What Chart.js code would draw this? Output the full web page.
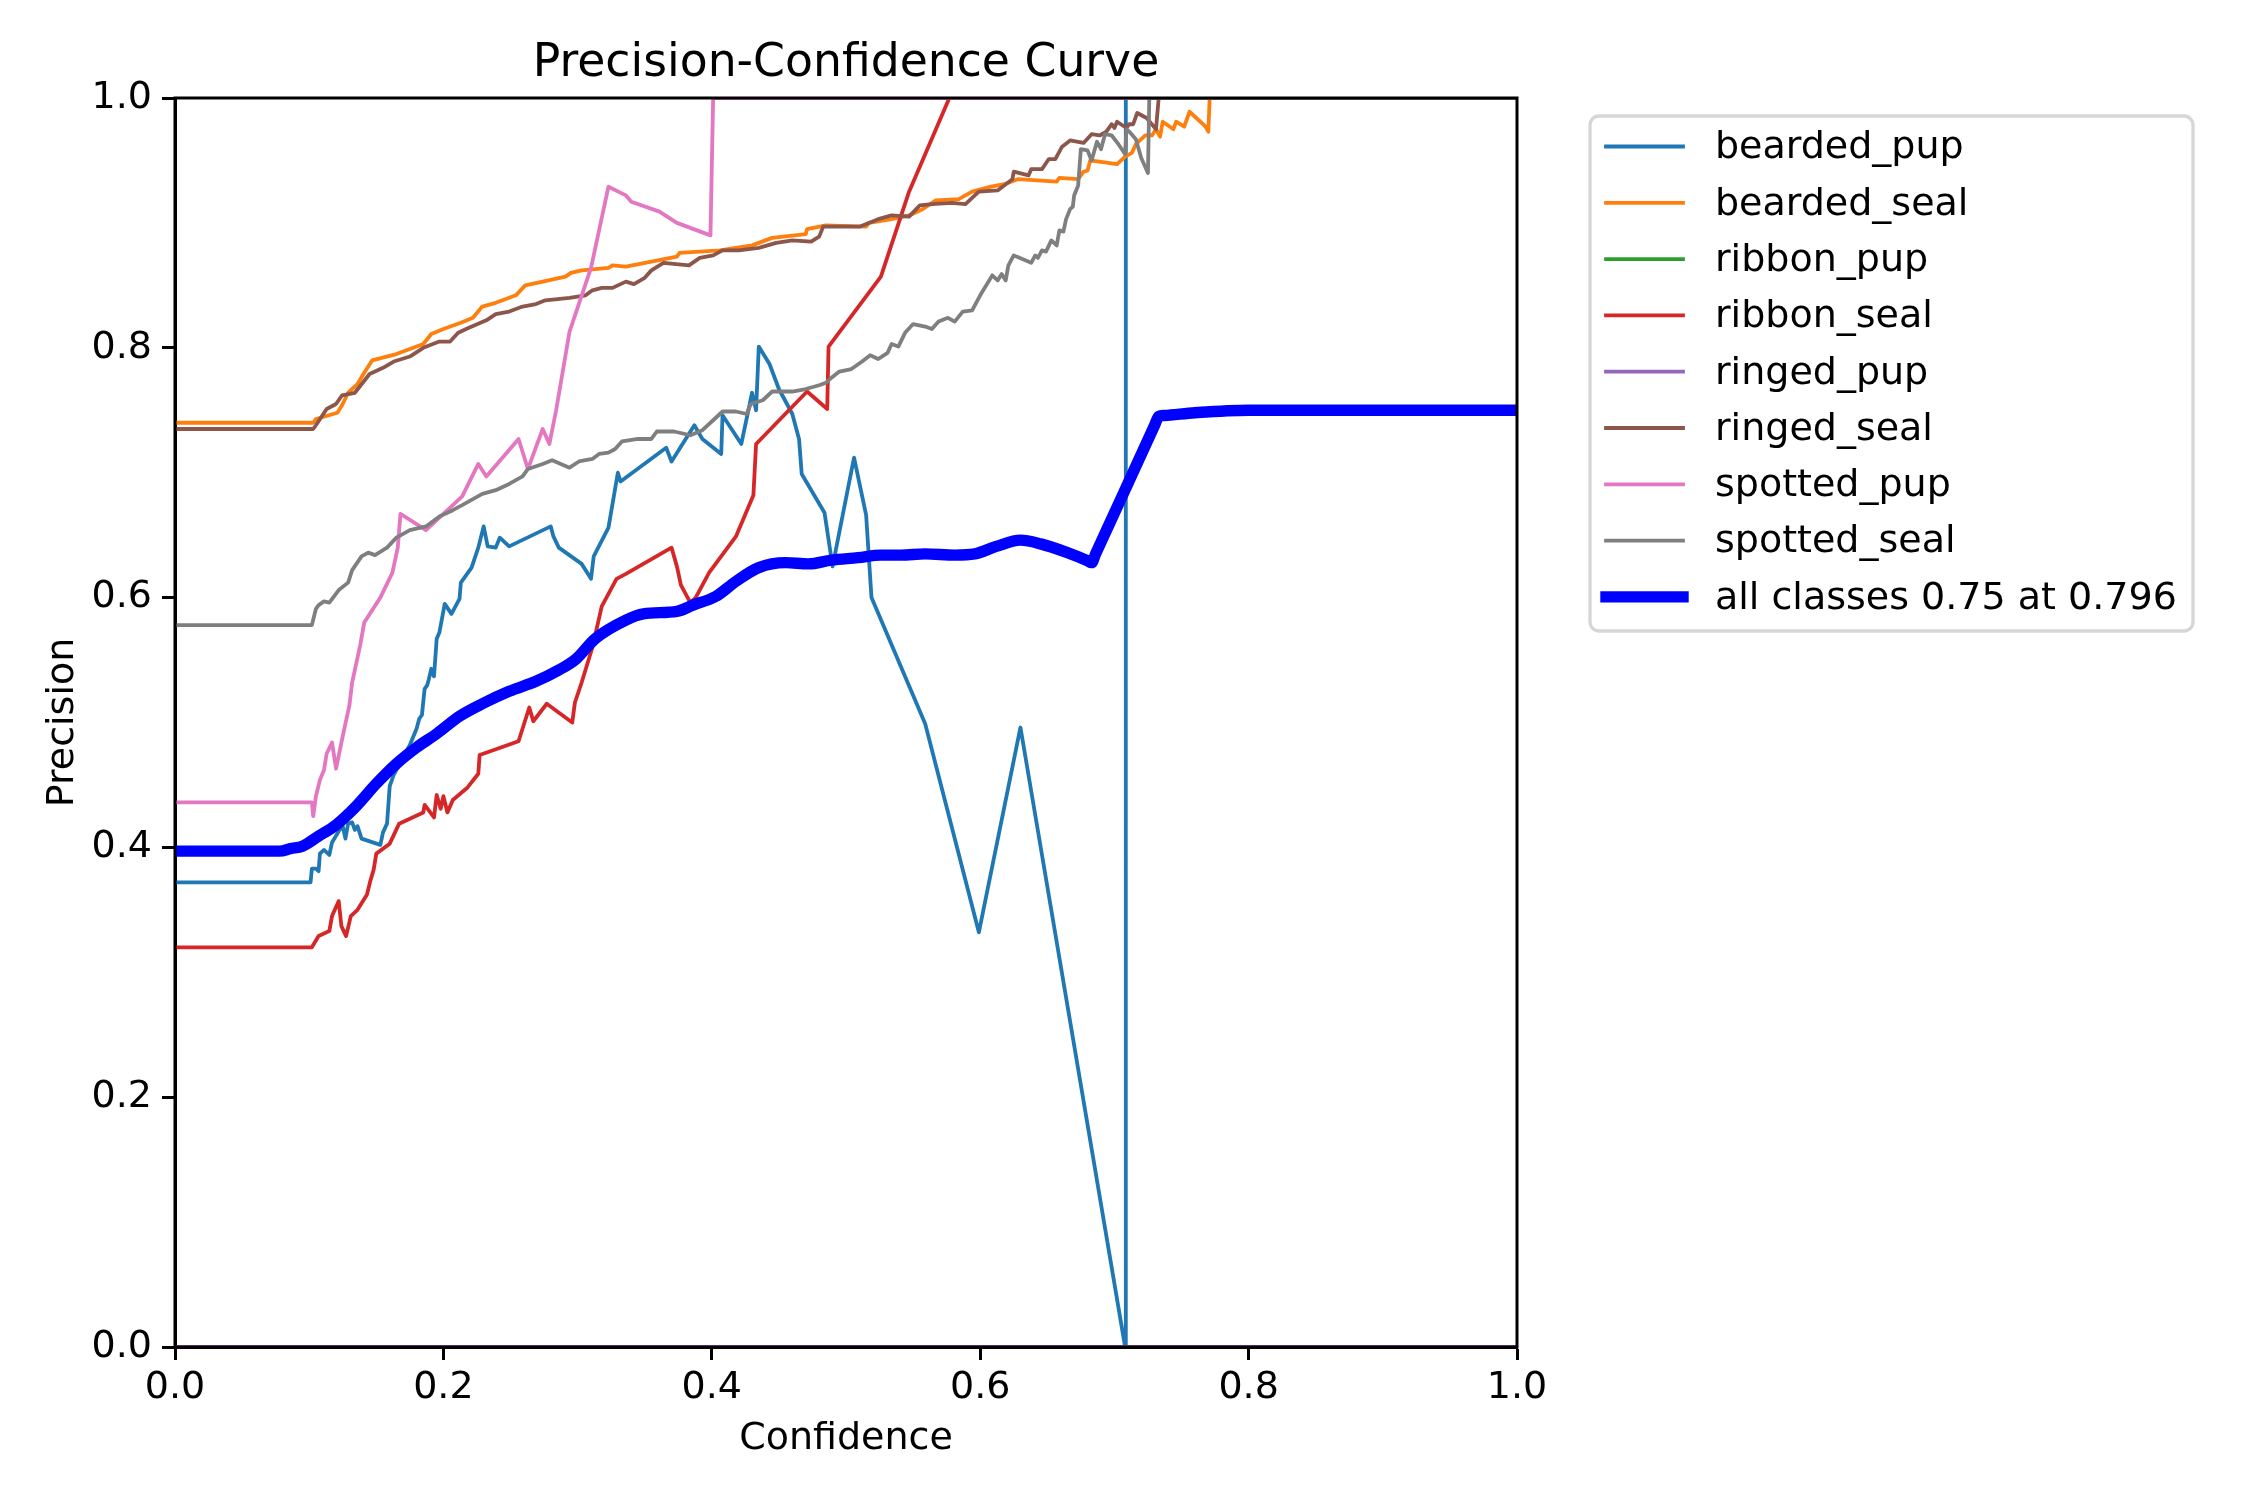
<!DOCTYPE html>
<html>
<head>
<meta charset="utf-8">
<script src="https://cdn.jsdelivr.net/npm/chart.js@4.4.1/dist/chart.umd.min.js"></script>
<style>
  html, body { margin: 0; padding: 0; background: #ffffff; }
  #wrap { width: 2250px; height: 1500px; }
</style>
</head>
<body>
<div id="wrap"><canvas id="c" width="2250" height="1500" style="width:2250px;height:1500px"></canvas></div>
<script>
// ---------------- DATA ----------------
const chartTitle = 'Precision-Confidence Curve';
const xAxisTitle = 'Confidence';
const yAxisTitle = 'Precision';
const categories = ['bearded_pup', 'bearded_seal', 'ribbon_pup', 'ribbon_seal', 'ringed_pup', 'ringed_seal', 'spotted_pup', 'spotted_seal'];
const allClassesLabel = 'all classes 0.75 at 0.796';
const xTickValues = [0, 0.2, 0.4, 0.6, 0.8, 1.0];
const xTickLabels = ['0.0', '0.2', '0.4', '0.6', '0.8', '1.0'];
const yTickValues = [0, 0.2, 0.4, 0.6, 0.8, 1.0];
const yTickLabels = ['0.0', '0.2', '0.4', '0.6', '0.8', '1.0'];

// [confidence, precision]
const beardedPup = [[0,0.372],[0.101,0.372],[0.102,0.383],[0.105,0.383],[0.107,0.381],[0.108,0.395],[0.111,0.398],[0.115,0.394],[0.117,0.404],[0.122,0.413],[0.125,0.417],[0.127,0.407],[0.129,0.419],[0.132,0.420],[0.134,0.414],[0.136,0.417],[0.139,0.407],[0.153,0.402],[0.155,0.412],[0.158,0.419],[0.160,0.449],[0.163,0.458],[0.175,0.482],[0.180,0.495],[0.182,0.503],[0.184,0.506],[0.186,0.527],[0.188,0.530],[0.189,0.534],[0.191,0.543],[0.193,0.537],[0.195,0.567],[0.197,0.572],[0.201,0.595],[0.206,0.587],[0.212,0.599],[0.213,0.612],[0.221,0.624],[0.226,0.640],[0.230,0.657],[0.233,0.641],[0.239,0.640],[0.242,0.648],[0.249,0.641],[0.280,0.657],[0.282,0.649],[0.286,0.640],[0.303,0.627],[0.310,0.615],[0.312,0.633],[0.323,0.656],[0.330,0.700],[0.332,0.693],[0.366,0.720],[0.370,0.709],[0.387,0.738],[0.393,0.727],[0.407,0.715],[0.408,0.746],[0.422,0.723],[0.430,0.764],[0.433,0.750],[0.435,0.801],[0.443,0.787],[0.450,0.767],[0.460,0.747],[0.465,0.727],[0.467,0.699],[0.484,0.668],[0.490,0.625],[0.506,0.712],[0.515,0.666],[0.519,0.600],[0.559,0.499],[0.599,0.332],[0.630,0.496],[0.708,0.0],[0.7085,1.0],[1.0,1.0]];
const beardedSeal = [[0,0.740],[0.103,0.740],[0.105,0.743],[0.121,0.748],[0.1245,0.754],[0.129,0.764],[0.136,0.771],[0.141,0.780],[0.147,0.790],[0.154,0.792],[0.165,0.795],[0.175,0.799],[0.185,0.803],[0.191,0.811],[0.200,0.815],[0.213,0.820],[0.222,0.824],[0.229,0.833],[0.239,0.836],[0.249,0.840],[0.254,0.842],[0.261,0.850],[0.274,0.853],[0.291,0.857],[0.295,0.860],[0.303,0.862],[0.323,0.864],[0.326,0.866],[0.336,0.865],[0.374,0.873],[0.376,0.876],[0.406,0.878],[0.430,0.882],[0.445,0.888],[0.470,0.891],[0.471,0.895],[0.485,0.898],[0.515,0.897],[0.517,0.900],[0.534,0.903],[0.547,0.906],[0.557,0.911],[0.567,0.918],[0.584,0.919],[0.594,0.925],[0.608,0.929],[0.618,0.931],[0.628,0.935],[0.657,0.933],[0.659,0.936],[0.673,0.935],[0.677,0.941],[0.680,0.942],[0.682,0.950],[0.702,0.947],[0.708,0.953],[0.713,0.956],[0.716,0.963],[0.723,0.970],[0.728,0.970],[0.731,0.975],[0.734,0.969],[0.736,0.981],[0.744,0.975],[0.746,0.981],[0.752,0.977],[0.756,0.989],[0.768,0.977],[0.770,0.973],[0.771,1.0],[1.0,1.0]];
const ribbonPup = [[0,0],[1.0,0]];
const ribbonSeal = [[0,0.320],[0.102,0.320],[0.107,0.329],[0.115,0.333],[0.117,0.345],[0.122,0.357],[0.124,0.337],[0.1275,0.329],[0.131,0.345],[0.136,0.350],[0.143,0.362],[0.1455,0.373],[0.148,0.382],[0.150,0.395],[0.160,0.403],[0.167,0.419],[0.185,0.428],[0.186,0.434],[0.193,0.424],[0.195,0.442],[0.198,0.431],[0.200,0.441],[0.203,0.428],[0.207,0.438],[0.218,0.448],[0.226,0.459],[0.227,0.474],[0.256,0.485],[0.264,0.512],[0.267,0.501],[0.277,0.515],[0.296,0.500],[0.298,0.516],[0.303,0.532],[0.311,0.560],[0.318,0.593],[0.329,0.615],[0.336,0.619],[0.370,0.640],[0.374,0.625],[0.377,0.610],[0.384,0.596],[0.388,0.600],[0.398,0.620],[0.418,0.649],[0.431,0.682],[0.433,0.723],[0.471,0.765],[0.486,0.751],[0.487,0.801],[0.526,0.857],[0.547,0.925],[0.577,1.0],[1.0,1.0]];
const ringedPup = [[0,0],[1.0,0]];
const ringedSeal = [[0,0.735],[0.103,0.735],[0.105,0.738],[0.113,0.751],[0.120,0.755],[0.1245,0.762],[0.134,0.764],[0.145,0.779],[0.155,0.784],[0.163,0.789],[0.175,0.793],[0.185,0.800],[0.197,0.805],[0.205,0.805],[0.211,0.812],[0.219,0.816],[0.232,0.822],[0.239,0.827],[0.249,0.829],[0.259,0.833],[0.269,0.835],[0.276,0.838],[0.294,0.840],[0.306,0.842],[0.311,0.846],[0.318,0.848],[0.326,0.848],[0.336,0.853],[0.342,0.851],[0.350,0.856],[0.355,0.862],[0.364,0.868],[0.383,0.866],[0.391,0.872],[0.401,0.874],[0.408,0.878],[0.420,0.878],[0.435,0.880],[0.448,0.884],[0.460,0.886],[0.474,0.885],[0.480,0.889],[0.483,0.897],[0.510,0.897],[0.517,0.900],[0.524,0.903],[0.534,0.906],[0.547,0.905],[0.555,0.914],[0.564,0.915],[0.579,0.916],[0.589,0.915],[0.599,0.925],[0.613,0.926],[0.624,0.935],[0.625,0.941],[0.636,0.938],[0.638,0.943],[0.646,0.943],[0.651,0.951],[0.656,0.951],[0.661,0.961],[0.667,0.966],[0.677,0.964],[0.683,0.971],[0.689,0.970],[0.694,0.973],[0.698,0.979],[0.700,0.976],[0.702,0.981],[0.709,0.976],[0.711,0.979],[0.714,0.979],[0.717,0.988],[0.724,0.984],[0.731,0.975],[0.733,1.0],[1.0,1.0]];
const spottedPup = [[0,0.436],[0.102,0.436],[0.103,0.425],[0.105,0.441],[0.108,0.454],[0.111,0.462],[0.113,0.475],[0.117,0.484],[0.120,0.463],[0.125,0.489],[0.130,0.514],[0.132,0.532],[0.138,0.562],[0.141,0.580],[0.153,0.600],[0.162,0.620],[0.166,0.640],[0.168,0.667],[0.187,0.654],[0.214,0.681],[0.226,0.707],[0.232,0.697],[0.256,0.727],[0.263,0.703],[0.274,0.735],[0.279,0.723],[0.284,0.750],[0.294,0.813],[0.310,0.864],[0.323,0.929],[0.336,0.922],[0.340,0.917],[0.361,0.909],[0.374,0.900],[0.399,0.890],[0.401,1.0],[1.0,1.0]];
const spottedSeal = [[0,0.578],[0.102,0.578],[0.105,0.591],[0.107,0.594],[0.111,0.597],[0.115,0.596],[0.122,0.606],[0.129,0.612],[0.132,0.622],[0.139,0.633],[0.144,0.636],[0.149,0.634],[0.158,0.640],[0.165,0.648],[0.175,0.654],[0.187,0.657],[0.197,0.665],[0.207,0.670],[0.214,0.674],[0.224,0.680],[0.229,0.683],[0.239,0.686],[0.249,0.691],[0.259,0.697],[0.263,0.703],[0.274,0.707],[0.281,0.710],[0.294,0.704],[0.301,0.709],[0.311,0.711],[0.316,0.715],[0.323,0.716],[0.328,0.719],[0.333,0.725],[0.345,0.727],[0.355,0.727],[0.359,0.733],[0.372,0.733],[0.384,0.730],[0.393,0.734],[0.402,0.743],[0.408,0.749],[0.418,0.749],[0.426,0.747],[0.429,0.755],[0.438,0.758],[0.445,0.765],[0.460,0.765],[0.470,0.767],[0.480,0.770],[0.485,0.772],[0.488,0.775],[0.495,0.781],[0.504,0.783],[0.512,0.789],[0.518,0.794],[0.524,0.791],[0.531,0.796],[0.534,0.803],[0.539,0.801],[0.544,0.812],[0.550,0.819],[0.559,0.817],[0.564,0.815],[0.569,0.821],[0.576,0.824],[0.581,0.821],[0.587,0.829],[0.594,0.830],[0.600,0.842],[0.609,0.858],[0.613,0.854],[0.616,0.859],[0.619,0.854],[0.621,0.866],[0.625,0.874],[0.627,0.873],[0.638,0.868],[0.641,0.874],[0.643,0.872],[0.646,0.878],[0.649,0.877],[0.653,0.886],[0.657,0.882],[0.659,0.894],[0.662,0.893],[0.664,0.903],[0.667,0.911],[0.669,0.913],[0.670,0.922],[0.673,0.930],[0.675,0.959],[0.680,0.958],[0.683,0.950],[0.687,0.965],[0.690,0.959],[0.693,0.971],[0.698,0.970],[0.703,0.963],[0.708,0.955],[0.709,0.975],[0.712,0.972],[0.716,0.967],[0.720,0.952],[0.725,0.940],[0.726,1.0],[1.0,1.0]];
const allClasses = [[0,0.397],[0.078,0.397],[0.086,0.399],[0.095,0.401],[0.107,0.409],[0.120,0.418],[0.135,0.433],[0.150,0.451],[0.165,0.467],[0.180,0.480],[0.195,0.491],[0.212,0.505],[0.229,0.515],[0.249,0.525],[0.269,0.533],[0.286,0.542],[0.299,0.551],[0.313,0.567],[0.336,0.582],[0.349,0.587],[0.374,0.589],[0.386,0.594],[0.403,0.601],[0.418,0.613],[0.435,0.624],[0.455,0.628],[0.472,0.627],[0.489,0.630],[0.509,0.632],[0.526,0.634],[0.541,0.634],[0.559,0.635],[0.581,0.634],[0.596,0.635],[0.612,0.641],[0.630,0.646],[0.645,0.643],[0.665,0.636],[0.680,0.6295],[0.683,0.628],[0.686,0.635],[0.730,0.738],[0.733,0.745],[0.737,0.7458],[0.760,0.748],[0.800,0.750],[1.0,0.750]];

const classSeries = [beardedPup, beardedSeal, ribbonPup, ribbonSeal, ringedPup, ringedSeal, spottedPup, spottedSeal];
const classColors = ['#1f77b4', '#ff7f0e', '#2ca02c', '#d62728', '#9467bd', '#8c564b', '#e377c2', '#7f7f7f'];
const allColor = '#0000ff';

// ---------------- STYLE ----------------
const FONT = 'DejaVu Sans';
const tickFont = { family: FONT, size: 38 };
const thinW = 3.8, thickW = 11.4;

const toXY = arr => arr.map(p => ({ x: p[0], y: p[1] }));
const datasets = classSeries.map((s, i) => ({
  label: categories[i], data: toXY(s), borderColor: classColors[i], backgroundColor: classColors[i],
  borderWidth: thinW, pointRadius: 0, tension: 0, fill: false, clip: 0,
  borderJoinStyle: 'round', borderCapStyle: 'square', order: 20 - i
}));
datasets.push({
  label: allClassesLabel, data: toXY(allClasses), borderColor: allColor, backgroundColor: allColor,
  borderWidth: thickW, pointRadius: 0, cubicInterpolationMode: 'monotone', fill: false, clip: 0,
  borderJoinStyle: 'round', borderCapStyle: 'square', order: 0
});

const framePlugin = {
  id: 'frame',
  afterDatasetsDraw(chart) {
    const { ctx, chartArea: a } = chart;
    ctx.save();
    ctx.strokeStyle = '#000'; ctx.lineWidth = 3;
    ctx.strokeRect(a.left, a.top, a.right - a.left, a.bottom - a.top);
    ctx.restore();
  },
  afterDraw(chart) {
    const { ctx, chartArea: a } = chart;
    ctx.save();
    // title
    ctx.fillStyle = '#000';
    ctx.font = '45.7px "' + FONT + '"';
    ctx.textAlign = 'center'; ctx.textBaseline = 'middle';
    ctx.fillText(chartTitle, (a.left + a.right) / 2, 64);
    // legend
    const bx = 1590, by = 116, bw = 603, bh = 515, r = 9;
    ctx.beginPath();
    ctx.roundRect(bx, by, bw, bh, r);
    ctx.fillStyle = 'rgba(255,255,255,0.8)'; ctx.fill();
    ctx.strokeStyle = '#d6d6d6'; ctx.lineWidth = 3.3; ctx.stroke();
    ctx.font = '38px "' + FONT + '"';
    ctx.textAlign = 'left'; ctx.textBaseline = 'middle';
    const ds = chart.data.datasets;
    ds.forEach((d, i) => {
      const y = 147.5 + i * 56.3;
      ctx.beginPath();
      ctx.strokeStyle = d.borderColor; ctx.lineWidth = d.borderWidth; ctx.lineCap = 'square';
      ctx.moveTo(1606, y - 1); ctx.lineTo(1683, y - 1); ctx.stroke();
      ctx.fillStyle = '#000';
      ctx.fillText(d.label, 1715, y + 1);
    });
    ctx.restore();
  }
};

const axisCommon = {
  type: 'linear', min: 0, max: 1,
  grid: { display: true, drawOnChartArea: false, drawTicks: true, tickLength: 13, tickWidth: 3, tickColor: '#000' },
  border: { display: true, color: '#000', width: 3 }
};

new Chart(document.getElementById('c'), {
  type: 'line',
  data: { datasets },
  options: {
    responsive: false, animation: false, devicePixelRatio: 1,
    layout: { padding: { left: 0, top: 98, right: 733, bottom: 0 } },
    plugins: { legend: { display: false }, title: { display: false }, tooltip: { enabled: false } },
    scales: {
      x: Object.assign({}, axisCommon, {
        position: 'bottom',
        afterBuildTicks: s => { s.ticks = xTickValues.map(v => ({ value: v })); },
        ticks: { font: tickFont, color: '#000', padding: 5, maxRotation: 0, autoSkip: false,
                 callback: (v, i) => xTickLabels[i] },
        title: { display: true, text: xAxisTitle, font: tickFont, color: '#000', padding: { top: 0, bottom: 38 } },
        afterFit: s => { s.height = 153; }
      }),
      y: Object.assign({}, axisCommon, {
        position: 'left',
        afterBuildTicks: s => { s.ticks = yTickValues.map(v => ({ value: v })); },
        ticks: { font: tickFont, color: '#000', padding: 10, autoSkip: false,
                 callback: (v, i) => yTickLabels[i] },
        title: { display: true, text: yAxisTitle, font: tickFont, color: '#000', padding: { top: 40, bottom: 0 } },
        afterFit: s => { s.width = 175; }
      })
    }
  },
  plugins: [framePlugin]
});
</script>
</body>
</html>
